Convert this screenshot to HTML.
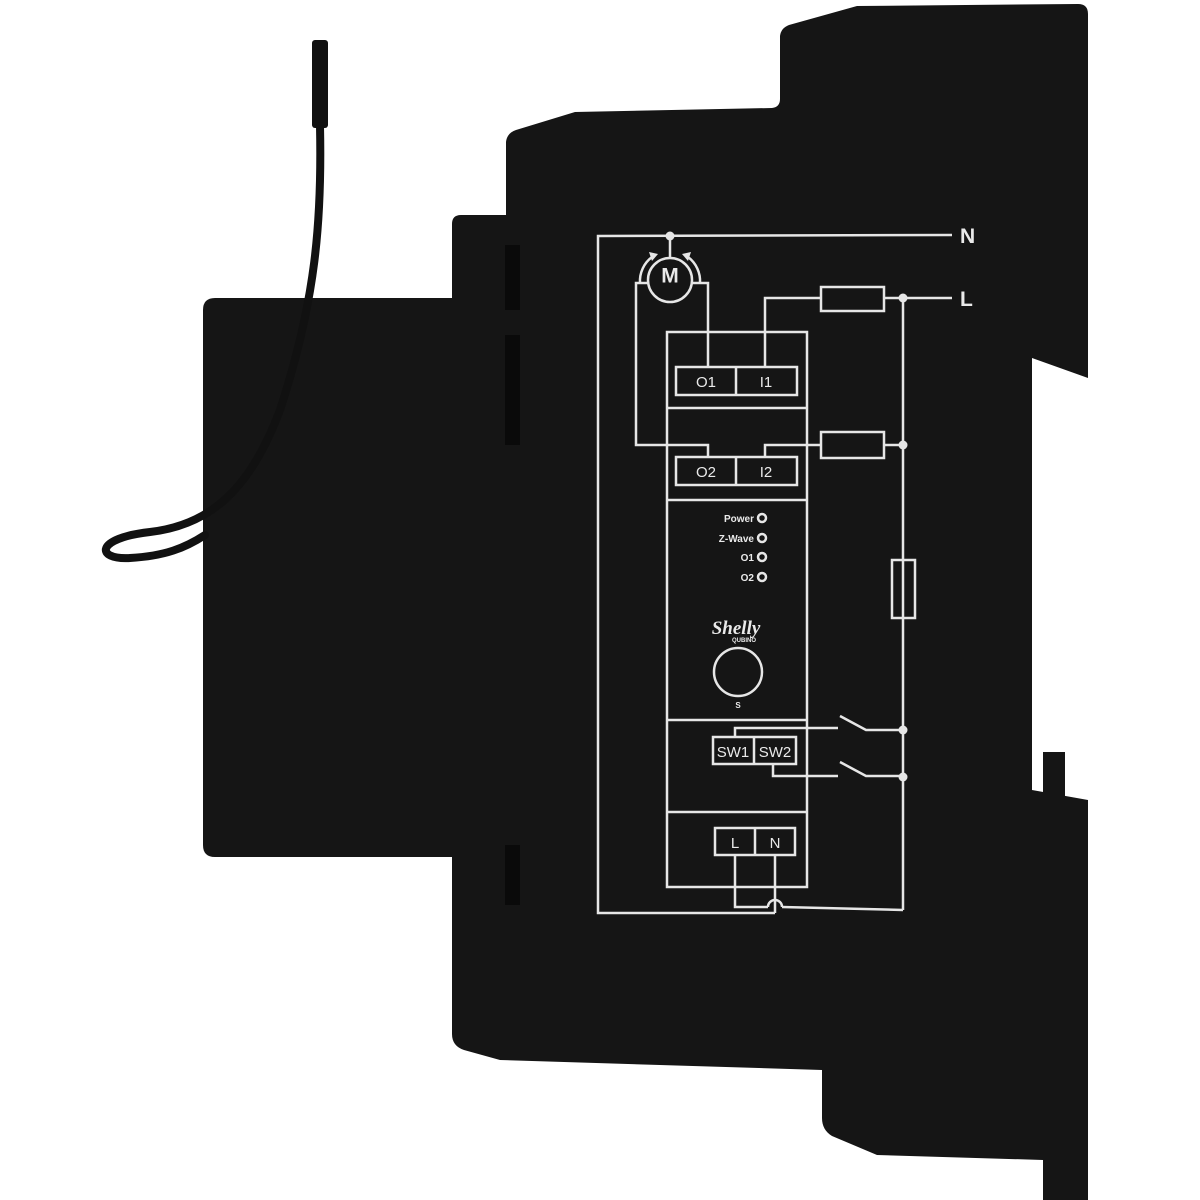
<!DOCTYPE html>
<html><head><meta charset="utf-8"><style>
html,body{margin:0;padding:0;background:#fff;}
svg{display:block;}
</style></head><body>
<svg width="1200" height="1200" viewBox="0 0 1200 1200" xmlns="http://www.w3.org/2000/svg">
<rect width="1200" height="1200" fill="#fff"/>
<!-- device body -->
<path fill="#151515" d="M203,310 Q203,298 215,298 L452,298 L452,224 Q452,215 461,215 L506,215 L506,142 Q507,133 516,130 L575,112 L772,108 Q780,107 780,99 L780,36 Q781,28 789,25 L857,6 L1078,4 Q1088,4 1088,14 L1088,378 L1032,358 L1032,790 L1088,800 L1088,1200 L1043,1200 L1043,1160 L877,1155 L832,1136 Q822,1130 822,1118 L822,1070 L500,1060 L464,1050 Q452,1046 452,1034 L452,857 L215,857 Q203,857 203,845 Z"/>
<rect x="1043" y="752" width="22" height="50" fill="#151515"/>
<!-- slots -->
<rect x="505" y="245" width="15" height="65" fill="#0a0a0a"/>
<rect x="505" y="335" width="15" height="110" fill="#0a0a0a"/>
<rect x="505" y="845" width="15" height="60" fill="#0a0a0a"/>
<!-- antenna -->
<rect x="312" y="40" width="16" height="88" rx="3" fill="#111"/>
<path d="M320,126 C322,220 316,300 280,410 C250,490 210,525 150,532 C95,538 95,560 130,558 C165,556 185,548 205,535" fill="none" stroke="#111" stroke-width="8" stroke-linecap="round"/>
<!-- diagram -->
<g fill="none" stroke="#e6e6e6" stroke-width="2.5">
<polyline points="952,235 598,236 598,913 775,913"/>
<line x1="670" y1="236" x2="670" y2="258"/>
<circle cx="670" cy="280" r="22"/>
<path d="M640,283 A30,30 0 0 1 652,257"/>
<path d="M700,283 A30,30 0 0 0 688,257"/>
<polyline points="648,283 636,283 636,445 708,445 708,457"/>
<polyline points="692,283 708,283 708,367"/>
<polyline points="952,298 885,298"/>
<rect x="821" y="287" width="63" height="24"/>
<polyline points="821,298 765,298 765,367"/>
<rect x="821" y="432" width="63" height="26"/>
<polyline points="903,445 884,445"/>
<polyline points="821,445 765,445 765,457"/>
<line x1="903" y1="298" x2="903" y2="910"/>
<rect x="892" y="560" width="23" height="58"/>
<rect x="667" y="332" width="140" height="555"/>
<line x1="667" y1="408" x2="807" y2="408"/>
<line x1="667" y1="500" x2="807" y2="500"/>
<line x1="667" y1="720" x2="807" y2="720"/>
<line x1="667" y1="812" x2="807" y2="812"/>
<rect x="676" y="367" width="121" height="28"/>
<line x1="736" y1="367" x2="736" y2="395"/>
<rect x="676" y="457" width="121" height="28"/>
<line x1="736" y1="457" x2="736" y2="485"/>
<circle cx="762" cy="518" r="4"/>
<circle cx="762" cy="538" r="4"/>
<circle cx="762" cy="557" r="4"/>
<circle cx="762" cy="577" r="4"/>
<circle cx="738" cy="672" r="24"/>
<rect x="713" y="737" width="83" height="27"/>
<line x1="754" y1="737" x2="754" y2="764"/>
<polyline points="735,737 735,728 838,728"/>
<polyline points="840,716 866,730 903,730"/>
<polyline points="773,764 773,776 838,776"/>
<polyline points="840,762 866,776 903,776"/>
<rect x="715" y="828" width="80" height="27"/>
<line x1="755" y1="828" x2="755" y2="855"/>
<polyline points="735,855 735,907 768,907"/>
<path d="M768,907 A7,7 0 0 1 782,907"/>
<polyline points="782,907 903,910"/>
<line x1="775" y1="855" x2="775" y2="913"/>
</g>
<g fill="#e6e6e6">
<circle cx="670" cy="236" r="4.5"/>
<circle cx="903" cy="298" r="4.5"/>
<circle cx="903" cy="445" r="4.5"/>
<circle cx="903" cy="730" r="4.5"/>
<circle cx="903" cy="777" r="4.5"/>
<path d="M649,252 L658,254 L652,261 Z"/>
<path d="M691,252 L682,254 L688,261 Z"/>
</g>
<g fill="#eaeaea" font-family="Liberation Sans, sans-serif" font-weight="bold">
<text x="960" y="243" font-size="21">N</text>
<text x="960" y="306" font-size="21">L</text>
<text x="670" y="277" font-size="21" text-anchor="middle" dominant-baseline="middle" y2="0">M</text>
<text x="706" y="387" font-size="15" font-weight="normal" text-anchor="middle">O1</text>
<text x="766" y="387" font-size="15" font-weight="normal" text-anchor="middle">I1</text>
<text x="706" y="477" font-size="15" font-weight="normal" text-anchor="middle">O2</text>
<text x="766" y="477" font-size="15" font-weight="normal" text-anchor="middle">I2</text>
<text x="754" y="522" font-size="10" text-anchor="end">Power</text>
<text x="754" y="542" font-size="10" text-anchor="end">Z-Wave</text>
<text x="754" y="561" font-size="10" text-anchor="end">O1</text>
<text x="754" y="581" font-size="10" text-anchor="end">O2</text>
<text x="736" y="634" font-size="19" font-style="italic" font-family="Liberation Serif, serif" text-anchor="middle">Shelly</text>
<text x="744" y="642" font-size="6" text-anchor="middle">QUBINO</text>
<text x="738" y="708" font-size="8" text-anchor="middle">S</text>
<text x="733" y="757" font-size="15" font-weight="normal" text-anchor="middle">SW1</text>
<text x="775" y="757" font-size="15" font-weight="normal" text-anchor="middle">SW2</text>
<text x="735" y="848" font-size="15" font-weight="normal" text-anchor="middle">L</text>
<text x="775" y="848" font-size="15" font-weight="normal" text-anchor="middle">N</text>
</g>
</svg>
</body></html>
